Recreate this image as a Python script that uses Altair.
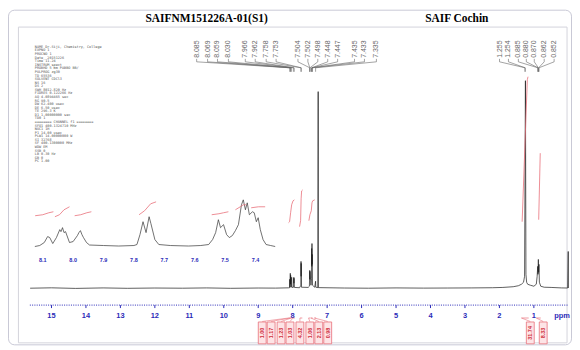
import altair as alt
import pandas as pd

# ---------------- data ----------------
title_left = "SAIFNM151226A-01(S1)"
title_right = "SAIF Cochin"

# main 1H spectrum vertices (ppm, intensity)
main_ppm = [15.62, 15.0, 14.3, 13.5, 12.8, 12.0, 11.2, 10.5, 9.8, 9.0, 8.5, 8.12, 8.09,
            8.085, 8.078, 8.069, 8.064, 8.059, 8.045, 8.030, 8.02, 7.975, 7.966, 7.964, 7.962, 7.95,
            7.80, 7.762, 7.758, 7.755, 7.753, 7.745, 7.55, 7.515, 7.504, 7.501, 7.498, 7.47,
            7.452, 7.448, 7.444, 7.440, 7.436, 7.433, 7.425, 7.36, 7.335, 7.33, 7.27, 7.260, 7.255,
            6.5, 5.8, 5.0, 4.2, 3.5, 2.8, 2.2, 1.9, 1.6, 1.45, 1.36, 1.30, 1.27, 1.245, 1.23, 1.21,
            1.18, 1.10, 1.00, 0.93, 0.905, 0.888, 0.880, 0.870, 0.862, 0.852, 0.84, 0.80, 0.70,
            0.50, 0.20, 0.02, 0.003, -0.003]
main_int = [0.0, 0.4, -0.2, 0.3, -0.1, 0.2, 0.0, 0.3, -0.1, 0.2, 0.1, 0.4, 0.5,
            9, 1, 15, 4, 13, 1, 11, 0.8, 1, 11, 5, 10, 0.8,
            0.5, 3, 27, 12, 25, 1, 0.8, 2, 18, 9, 17, 3,
            10, 40, 22, 45, 24, 34, 3, 1, 7, 1, 0.6, 198, 0.6,
            0.2, 0.0, 0.3, 0.1, 0.2, 0.3, 0.5, 0.8, 1.5, 2.5, 4, 6, 12, 209, 14, 6,
            4, 3, 2, 4, 12, 22, 14, 29, 16, 24, 6, 2, 1,
            0.8, 0.3, 0.2, 37, 0.2]

# integral curves on the main spectrum (group, ppm, level)
mint_group = ["a"] * 6 + ["b"] * 5 + ["c"] * 6 + ["d"] * 3 + ["e"] * 2
mint_ppm = [8.12, 8.09, 8.06, 8.03, 7.99, 7.95,
            7.80, 7.77, 7.755, 7.74, 7.71,
            7.53, 7.50, 7.46, 7.44, 7.42, 7.36,
            1.34, 1.19, 1.17,
            0.86, 0.815]
mint_lvl = [66, 67, 76, 84, 88, 89,
            62, 68, 90, 98, 99,
            68, 74, 78, 86, 88, 89,
            67, 210, 213,
            69, 136]

# expanded aromatic region (inset) vertices (ppm, intensity)
ins_ppm = [8.126, 8.11, 8.095, 8.084, 8.077, 8.067, 8.055, 8.044, 8.040, 8.035, 8.030, 8.025,
           8.012, 8.000, 7.986, 7.981, 7.976, 7.971, 7.966, 7.956, 7.946, 7.90, 7.85, 7.80,
           7.790, 7.780, 7.770, 7.760, 7.750, 7.744, 7.731, 7.718, 7.68, 7.62, 7.58, 7.554,
           7.541, 7.531, 7.522, 7.515, 7.505, 7.495, 7.486, 7.476, 7.466, 7.456, 7.446, 7.440,
           7.433, 7.427, 7.420, 7.410, 7.404, 7.397, 7.391, 7.384, 7.375, 7.365, 7.35, 7.335]
ins_int = [0, 1, 4, 10, 9, 3, 9, 17, 15, 19, 14, 15,
           4, 5, 11, 14, 16, 12, 9, 4, 1.5, 1, 0.5, 1,
           2, 12, 25, 14, 30, 23, 7, 2, 1, 0.5, 1, 2,
           7, 14, 27, 19, 22, 12, 9, 11, 16, 22, 42, 47,
           37, 44, 32, 35, 34, 25, 29, 17, 7, 2, 1, 0]

# integral curves on the inset (group, ppm, level)
iint_group = ["1"] * 4 + ["2"] * 4 + ["3"] * 4 + ["4"] * 4 + ["5"] * 4 + ["6"] * 4 + ["7"] * 3
iint_ppm = [8.125, 8.10, 8.08, 8.065,
            8.06, 8.045, 8.03, 8.012,
            7.995, 7.975, 7.955, 7.94,
            7.783, 7.765, 7.745, 7.727,
            7.544, 7.52, 7.505, 7.489,
            7.466, 7.45, 7.44, 7.43,
            7.414, 7.39, 7.368]
iint_lvl = [31, 32, 34, 35,
            30, 32, 37, 40,
            31, 32, 34, 35,
            32, 36, 43, 45,
            32, 33, 34, 35,
            37, 40, 42, 42,
            39, 40, 40]

# peak picking labels
left_labels = ["8.085", "8.069", "8.059", "8.030", "7.966", "7.962", "7.758", "7.753",
               "7.504", "7.502", "7.498", "7.448", "7.447", "7.435", "7.433", "7.335"]
left_label_pos = [10.787, 10.470, 10.182, 9.865, 9.375, 9.087, 8.769, 8.481,
                  7.847, 7.559, 7.271, 6.983, 6.695, 6.205, 5.917, 5.570]
right_labels = ["1.255", "1.254", "0.885", "0.880", "0.870", "0.862", "0.852"]
right_label_pos = [1.997, 1.738, 1.450, 1.219, 0.988, 0.700, 0.412]

# integrals written under the axis
int_values = ["1.00", "1.17", "1.23", "1.03", "4.32", "1.06", "2.13", "0.98", "31.74", "8.33"]
int_pos = [8.884, 8.625, 8.337, 8.078, 7.790, 7.502, 7.242, 6.983, 1.104, 0.729]
# integral regions they refer to (ppm start, ppm end)
int_from = [8.12, 8.07, 8.04, 7.99, 7.79, 7.54, 7.47, 7.37, 1.36, 0.93]
int_to = [8.08, 8.04, 8.01, 7.94, 7.72, 7.48, 7.42, 7.32, 1.15, 0.80]

main_ticks = list(range(15, 0, -1))
inset_ticks = [8.1, 8.0, 7.9, 7.8, 7.7, 7.6, 7.5, 7.4]

param_lines = [
    "NAME        Dr.Siji, Chemistry, College",
    "EXPNO                     1",
    "PROCNO                    1",
    "Date_              20151226",
    "Time                  11.24",
    "INSTRUM               spect",
    "PROBHD   5 mm PABBO BB/",
    "PULPROG                zg30",
    "TD                    65536",
    "SOLVENT               CDCl3",
    "NS                       16",
    "DS                        2",
    "SWH               8012.820 Hz",
    "FIDRES            0.122266 Hz",
    "AQ               4.0894465 sec",
    "RG                    90.5",
    "DW                  62.400 usec",
    "DE                    6.50 usec",
    "TE                   296.3 K",
    "D1              1.00000000 sec",
    "TD0                       1",
    "",
    "======== CHANNEL f1 ========",
    "SFO1           400.1324710 MHz",
    "NUC1                     1H",
    "P1                   14.00 usec",
    "PLW1           14.00000000 W",
    "SI                    32768",
    "SF             400.1300000 MHz",
    "WDW                      EM",
    "SSB                       0",
    "LB                    0.30 Hz",
    "GB                        0",
    "PC                     1.00",
]

# ---------------- scales (chart px = image px - 8) ----------------
XS = alt.Scale(domain=[16, 0], range=[9.1, 564.3], nice=False, zero=False)
YS = alt.Scale(domain=[0, 220], range=[281, 61], nice=False, zero=False)
XI = alt.Scale(domain=[8.2, 7.3], range=[4.4, 279.8], nice=False, zero=False)
YI = alt.Scale(domain=[0, 100], range=[239, 139], nice=False, zero=False)

BLUE = "#2b2bb8"
RED = "#e8707a"
GREY = "#666666"

one = pd.DataFrame({"k": [0]})

# ---------------- decoration ----------------
outer = alt.Chart(one).mark_rect(cornerRadius=6, fill="white", stroke="#c9c9d6", strokeWidth=1).encode(
    x=alt.value(0.5), x2=alt.value(567.5), y=alt.value(1), y2=alt.value(338))
inner = alt.Chart(one).mark_rect(fillOpacity=0, stroke="#d4d4dc", strokeWidth=1).encode(
    x=alt.value(10.5), x2=alt.value(563), y=alt.value(18), y2=alt.value(336))
t_left = alt.Chart(one).mark_text(font="Liberation Serif", fontWeight="bold", fontSize=11.5,
                                  baseline="middle").encode(
    x=alt.value(200), y=alt.value(9.5), text=alt.value(title_left))
t_right = alt.Chart(one).mark_text(font="Liberation Serif", fontWeight="bold", fontSize=11.5,
                                   baseline="middle").encode(
    x=alt.value(452), y=alt.value(9.5), text=alt.value(title_right))
params = alt.Chart(one).mark_text(font="DejaVu Sans Mono", fontSize=3.5, lineHeight=3.6,
                                  align="left", baseline="top", color="#555555").encode(
    x=alt.value(27), y=alt.value(36), text=alt.value(param_lines))

deco = alt.layer(outer, inner, t_left, t_right, params)

# ---------------- main spectrum ----------------
main_df = pd.DataFrame({"ppm": main_ppm, "inten": main_int})
spec = alt.Chart(main_df).mark_line(color="#1a1a1a", strokeWidth=0.7).encode(
    x=alt.X("ppm:Q", scale=XS, axis=None), y=alt.Y("inten:Q", scale=YS, axis=None))

mint_df = pd.DataFrame({"g": mint_group, "ppm": mint_ppm, "lvl": mint_lvl})
mint = alt.Chart(mint_df).mark_line(color=RED, strokeWidth=0.8).encode(
    x=alt.X("ppm:Q", scale=XS, axis=None), y=alt.Y("lvl:Q", scale=YS, axis=None), detail="g:N")

# axis
tick_df = pd.DataFrame({"t": main_ticks, "lab": [str(t) for t in main_ticks]})
axis_line = alt.Chart(one).mark_rule(color=BLUE, strokeWidth=1, strokeDash=[1, 1.3]).encode(
    x=alt.value(22), x2=alt.value(564), y=alt.value(298))
axis_ticks = alt.Chart(tick_df).mark_rule(color=BLUE, strokeWidth=1).encode(
    x=alt.X("t:Q", scale=XS, axis=None), y=alt.value(298), y2=alt.value(301))
axis_labels = alt.Chart(tick_df).mark_text(color=BLUE, font="Liberation Sans", fontWeight="bold",
                                           fontSize=7.5, baseline="middle").encode(
    x=alt.X("t:Q", scale=XS, axis=None), y=alt.value(309), text="lab:N")
ppm_lab = alt.Chart(one).mark_text(color=BLUE, font="Liberation Sans", fontWeight="bold",
                                   fontSize=7.5, baseline="middle").encode(
    x=alt.value(558), y=alt.value(309), text=alt.value("ppm"))

# peak labels and connectors
lab_df = pd.DataFrame({"lab": left_labels + right_labels,
                       "pos": left_label_pos + right_label_pos,
                       "peak": [float(v) for v in left_labels + right_labels]})
lab_text = alt.Chart(lab_df).mark_text(angle=270, align="left", baseline="middle", fontSize=7,
                                       font="Liberation Sans", color=GREY).encode(
    x=alt.X("pos:Q", scale=XS, axis=None), y=alt.value(49), text="lab:N")
con1 = alt.Chart(lab_df).mark_rule(color=GREY, strokeWidth=0.6).encode(
    x=alt.X("pos:Q", scale=XS, axis=None), y=alt.value(50), y2=alt.value(53))
con2 = alt.Chart(lab_df).mark_rule(color=GREY, strokeWidth=0.6).encode(
    x=alt.X("pos:Q", scale=XS, axis=None), x2="peak:Q", y=alt.value(53), y2=alt.value(59))
con3 = alt.Chart(lab_df).mark_rule(color=GREY, strokeWidth=0.6).encode(
    x=alt.X("peak:Q", scale=XS, axis=None), y=alt.value(59), y2=alt.value(63))

# integral labels under the axis, with their brackets
int_df = pd.DataFrame({"v": int_values, "pos": int_pos, "a": int_from, "b": int_to})
bracket = alt.Chart(int_df).mark_rule(color=RED, strokeWidth=0.7).encode(
    x=alt.X("a:Q", scale=XS, axis=None), x2="b:Q", y=alt.value(311))
br_link = alt.Chart(int_df).mark_rule(color=RED, strokeWidth=0.6).encode(
    x=alt.X("a:Q", scale=XS, axis=None), x2="pos:Q", y=alt.value(311), y2=alt.value(314.5))
box = alt.Chart(int_df).mark_point(shape="M-0.36,-1L0.36,-1L0.36,1L-0.36,1Z", size=484,
                                   filled=False, stroke=RED, fill="#fde4e6", fillOpacity=1,
                                   strokeWidth=0.8, opacity=1).encode(
    x=alt.X("pos:Q", scale=XS, axis=None), y=alt.value(326))
box_text = alt.Chart(int_df).mark_text(angle=270, align="center", baseline="middle", fontSize=5.5,
                                       font="Liberation Sans", fontWeight="bold", color="#d0303c").encode(
    x=alt.X("pos:Q", scale=XS, axis=None), y=alt.value(326), text="v:N")

main = alt.layer(spec, mint, axis_line, axis_ticks, axis_labels, ppm_lab,
                 con1, con2, con3, lab_text, bracket, br_link, box, box_text)

# ---------------- inset ----------------
ins_df = pd.DataFrame({"ppm": ins_ppm, "inten": ins_int})
ins = alt.Chart(ins_df).mark_line(color="#333333", strokeWidth=0.7).encode(
    x=alt.X("ppm:Q", scale=XI, axis=None), y=alt.Y("inten:Q", scale=YI, axis=None))
iint_df = pd.DataFrame({"g": iint_group, "ppm": iint_ppm, "lvl": iint_lvl})
iint = alt.Chart(iint_df).mark_line(color=RED, strokeWidth=0.8).encode(
    x=alt.X("ppm:Q", scale=XI, axis=None), y=alt.Y("lvl:Q", scale=YI, axis=None), detail="g:N")
itick_df = pd.DataFrame({"t": inset_ticks, "lab": [f"{t:.1f}" for t in inset_ticks]})
ilab = alt.Chart(itick_df).mark_text(color=BLUE, font="Liberation Sans", fontWeight="bold",
                                     fontSize=5.5, baseline="middle").encode(
    x=alt.X("t:Q", scale=XI, axis=None), y=alt.value(253), text="lab:N")
inset = alt.layer(ins, iint, ilab)

chart = alt.layer(deco, main, inset).resolve_scale(x="independent", y="independent").properties(
    width=568, height=340, padding=0, autosize=alt.AutoSizeParams(type="none")
).configure_view(stroke=None)

chart.save("out.html", embed_options={"renderer": "svg", "actions": False})
